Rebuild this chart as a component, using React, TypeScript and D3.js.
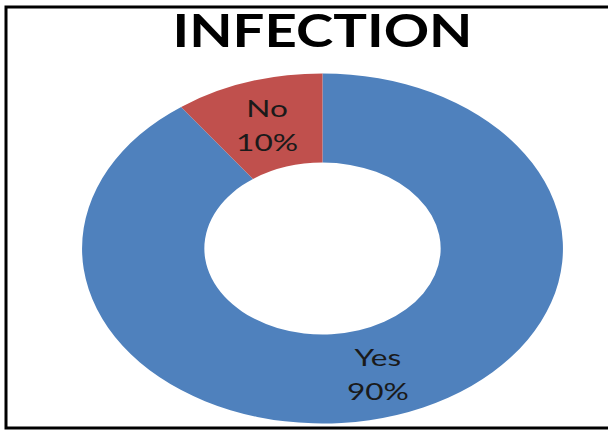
import React from "react";
import * as d3 from "d3";

// Infection outcome shares
const categories: string[] = ["Yes", "No"];
const shares: number[] = [90, 10];
const sliceColors: string[] = ["#4F81BD", "#C0504D"];
const chartTitle = "INFECTION";

const W = 608;
const H = 432;
const cx = 322.5;
const cy = 248.5;
const outerR = 175;
const innerR = 86;
const stretchX = 1.374; // donut is drawn as an ellipse, wider than tall
const font = "Lato, 'Open Sans', 'Liberation Sans', sans-serif";

export default function App() {
  const data = categories.map((c, i) => ({ label: c, value: shares[i], color: sliceColors[i] }));
  const pie = d3
    .pie<{ label: string; value: number; color: string }>()
    .sort(null)
    .value((d) => d.value);
  const arcs = pie(data);
  const arc = d3
    .arc<d3.PieArcDatum<{ label: string; value: number; color: string }>>()
    .innerRadius(innerR)
    .outerRadius(outerR);
  const total = d3.sum(shares);
  const fmt = (v: number) => `${Math.round((v / total) * 100)}%`;

  return (
    <svg
      width={W}
      height={H}
      viewBox={`0 0 ${W} ${H}`}
      style={{ position: "absolute", left: 0, top: 0, display: "block", background: "#fff" }}
    >
      <rect x={0} y={0} width={W} height={H} fill="#fff" />
      <rect x={6} y={7} width={W + 20} height={421} fill="none" stroke="#000" strokeWidth={3} />
      <text
        x={cx}
        y={47}
        textAnchor="middle"
        fontFamily={font}
        fontWeight={700}
        fontSize={46}
        fill="#000"
        textLength={300}
        lengthAdjust="spacingAndGlyphs"
      >
        {chartTitle}
      </text>
      <g transform={`translate(${cx},${cy}) scale(${stretchX},1)`}>
        {arcs.map((a) => (
          <path key={a.data.label} d={arc(a) || ""} fill={a.data.color} />
        ))}
      </g>
      {arcs.map((a) => {
        const [x, y] = arc.centroid(a);
        const px = cx + x * stretchX;
        const py = cy + y;
        return (
          <g
            key={`lbl-${a.data.label}`}
            transform={`translate(${px},${py}) scale(${stretchX},1)`}
            fontFamily={font}
            fontSize={23}
            fill="#1a1a1a"
            textAnchor="middle"
          >
            <text x={0} y={-7}>{a.data.label}</text>
            <text x={0} y={27}>{fmt(a.data.value)}</text>
          </g>
        );
      })}
    </svg>
  );
}
